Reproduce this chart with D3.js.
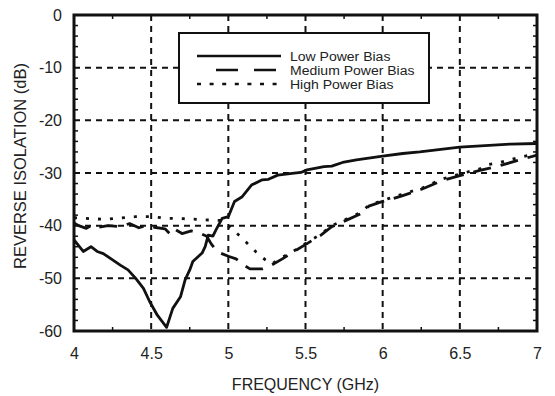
<!DOCTYPE html>
<html>
<head>
<meta charset="utf-8">
<script src="https://cdn.jsdelivr.net/npm/d3@7"></script>
<style>
  body { margin: 0; background: #fff; }
  text { font-family: "Liberation Sans", Arial, sans-serif; fill: #222; }
</style>
</head>
<body>
<svg id="chart" width="555" height="396"></svg>
<script>
// reverse isolation vs frequency, three bias levels
const lowFreq = [4.0,4.06,4.11,4.15,4.19,4.25,4.30,4.35,4.40,4.45,4.49,4.54,4.60,4.64,4.69,4.72,4.75,4.77,4.80,4.83,4.85,4.87,4.90,4.92,4.96,5.00,5.04,5.09,5.15,5.22,5.26,5.32,5.40,5.47,5.51,5.62,5.67,5.74,5.83,6.0,6.13,6.24,6.5,6.83,7.0];
const lowDb   = [-42.7,-44.9,-44.0,-44.9,-45.3,-46.5,-47.5,-48.4,-50.0,-51.9,-54.4,-57.0,-59.3,-55.7,-53.5,-50.3,-48.4,-46.8,-46.0,-45.2,-44.0,-41.8,-42.0,-40.8,-38.6,-38.3,-35.4,-34.5,-32.3,-31.3,-31.2,-30.4,-30.1,-29.9,-29.4,-28.8,-28.7,-28.0,-27.5,-26.8,-26.3,-26.0,-25.1,-24.5,-24.4];

const medFreq = [4.0,4.03,4.08,4.12,4.16,4.22,4.30,4.36,4.42,4.47,4.52,4.59,4.63,4.66,4.70,4.76,4.82,4.86,4.89,4.93,5.0,5.05,5.10,5.14,5.22,5.28,5.35,5.42,5.51,5.60,5.67,5.77,5.87,5.91,6.0,6.12,6.26,6.39,6.5,6.63,6.76,6.89,7.0];
const medDb   = [-39.5,-40.0,-40.5,-39.8,-40.3,-40.0,-40.2,-39.6,-40.4,-40.0,-40.3,-40.6,-41.8,-40.8,-41.5,-41.0,-41.5,-42.0,-43.5,-45.0,-45.8,-46.3,-47.5,-48.2,-48.2,-47.5,-46.3,-45.0,-43.4,-41.8,-40.2,-38.9,-37.6,-36.3,-35.4,-34.4,-33.0,-31.4,-30.5,-29.5,-28.6,-27.5,-26.6];

const highFreq = [4.0,4.2,4.4,4.5,4.6,4.73,4.85,4.95,5.02,5.09,5.18,5.24,5.28,5.35,5.42,5.51,5.60,5.67,5.77,5.87,5.91,6.0,6.12,6.26,6.39,6.5,6.63,6.68,6.76,6.89,7.0];
const highDb   = [-38.5,-38.8,-38.3,-38.3,-38.6,-38.7,-38.9,-39.0,-40.5,-42.4,-45.0,-46.5,-47.3,-46.0,-44.9,-43.2,-41.6,-40.0,-38.7,-37.3,-36.1,-35.2,-34.1,-32.8,-31.1,-30.2,-29.2,-28.4,-28.0,-27.0,-26.3];

const seriesNames = ["Low Power Bias", "Medium Power Bias", "High Power Bias"];
const xTicks = [4, 4.5, 5, 5.5, 6, 6.5, 7];
const yTicks = [0, -10, -20, -30, -40, -50, -60];

const margin = {left: 74, top: 15, right: 18, bottom: 65};
const W = 555, H = 396;
const iw = W - margin.left - margin.right, ih = H - margin.top - margin.bottom;

const svg = d3.select("#chart");
const g = svg.append("g").attr("transform", `translate(${margin.left},${margin.top})`);

const x = d3.scaleLinear().domain([4, 7]).range([0, iw]);
const y = d3.scaleLinear().domain([-60, 0]).range([ih, 0]);

// dashed grid
g.selectAll(".vgrid").data(xTicks.slice(1, -1)).join("line")
  .attr("x1", d => x(d)).attr("x2", d => x(d)).attr("y1", 0).attr("y2", ih)
  .attr("stroke", "#111").attr("stroke-width", 2).attr("stroke-dasharray", "6,5");
g.selectAll(".hgrid").data(yTicks.slice(1, -1)).join("line")
  .attr("x1", 0).attr("x2", iw).attr("y1", d => y(d)).attr("y2", d => y(d))
  .attr("stroke", "#111").attr("stroke-width", 2).attr("stroke-dasharray", "6,5");

// minor ticks inside the frame
const xMinor = d3.range(4.25, 7, 0.5);
const yMinor = d3.range(-58, 0, 2).filter(v => v % 10 !== 0);
[0, ih].forEach(yy => {
  g.append("g").selectAll("line").data(xMinor).join("line")
    .attr("x1", d => x(d)).attr("x2", d => x(d))
    .attr("y1", yy).attr("y2", yy === 0 ? 4 : ih - 4)
    .attr("stroke", "#111").attr("stroke-width", 1.5);
});
[0, iw].forEach(xx => {
  g.append("g").selectAll("line").data(yMinor).join("line")
    .attr("y1", d => y(d)).attr("y2", d => y(d))
    .attr("x1", xx).attr("x2", xx === 0 ? 4 : iw - 4)
    .attr("stroke", "#111").attr("stroke-width", 1.5);
});

// curves
const line = d3.line().x(d => x(d[0])).y(d => y(d[1]));
const series = [
  {pts: d3.zip(lowFreq, lowDb), dash: null},
  {pts: d3.zip(medFreq, medDb), dash: "18,10"},
  {pts: d3.zip(highFreq, highDb), dash: "3,9"}
];
g.selectAll(".curve").data(series).join("path")
  .attr("d", d => line(d.pts))
  .attr("fill", "none").attr("stroke", "#111").attr("stroke-width", 2.8)
  .attr("stroke-linejoin", "round")
  .attr("stroke-dasharray", d => d.dash);

// frame
g.append("rect").attr("width", iw).attr("height", ih)
  .attr("fill", "none").attr("stroke", "#111").attr("stroke-width", 3);

// axes (labels only)
const xAxis = g.append("g").attr("transform", `translate(0,${ih})`)
  .call(d3.axisBottom(x).tickValues(xTicks).tickSize(0).tickPadding(17).tickFormat(d => String(d)));
const yAxis = g.append("g")
  .call(d3.axisLeft(y).tickValues(yTicks).tickSize(0).tickPadding(12).tickFormat(d => String(d)));
[xAxis, yAxis].forEach(a => {
  a.select(".domain").remove();
  a.selectAll("text").attr("font-size", 16).attr("font-family", "Liberation Sans, Arial, sans-serif").attr("fill", "#222");
});

svg.append("text").attr("x", margin.left + iw / 2).attr("y", 390)
  .attr("text-anchor", "middle").attr("font-size", 16).text("FREQUENCY (GHz)");
svg.append("text").attr("transform", "translate(26,166) rotate(-90)")
  .attr("text-anchor", "middle").attr("font-size", 16.5).text("REVERSE ISOLATION (dB)");

// legend
const leg = svg.append("g");
leg.append("rect").attr("x", 179).attr("y", 33).attr("width", 250).attr("height", 70)
  .attr("fill", "#fff").attr("stroke", "#111").attr("stroke-width", 2);
const legRows = [
  {y: 56, x1: 197, x2: 281, dash: null},
  {y: 70, x1: 216, x2: 276, dash: "22,16"},
  {y: 84, x1: 197, x2: 281, dash: "4,8.6"}
];
legRows.forEach((r, i) => {
  leg.append("line").attr("x1", r.x1).attr("x2", r.x2).attr("y1", r.y).attr("y2", r.y)
    .attr("stroke", "#111").attr("stroke-width", 2.6).attr("stroke-dasharray", r.dash);
  const t = leg.append("text").attr("x", 290).attr("y", r.y + 4.5).attr("font-size", 12.5).text(seriesNames[i]);
  // the original lettering is a little wider than plain Arial
  const w = t.node().getComputedTextLength();
  t.attr("textLength", w * 1.12).attr("lengthAdjust", "spacingAndGlyphs");
});
</script>
</body>
</html>
